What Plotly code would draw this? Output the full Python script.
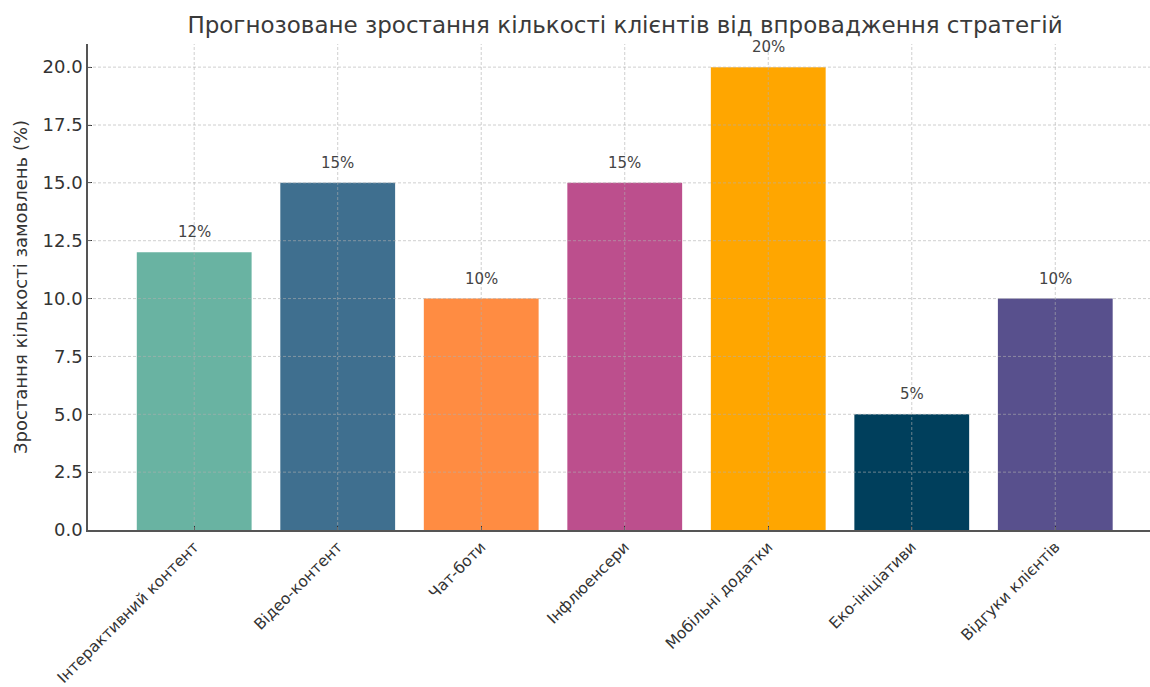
import plotly.graph_objects as go

categories = ["Інтерактивний контент", "Відео-контент", "Чат-боти", "Інфлюенсери",
              "Мобільні додатки", "Еко-ініціативи", "Відгуки клієнтів"]
growth = [12, 15, 10, 15, 20, 5, 10]
colors = ["#69b3a2", "#3f6f8f", "#ff8c42", "#bc4f8d", "#ffa600", "#003f5c", "#58508d"]
y_ticks = [0, 2.5, 5, 7.5, 10, 12.5, 15, 17.5, 20]

x_pos = list(range(len(categories)))
font = "DejaVu Sans, Verdana, sans-serif"

fig = go.Figure(go.Bar(
    x=x_pos, y=growth, width=0.8,
    marker=dict(color=colors, line=dict(width=0)),
    hoverinfo="skip",
))

# value labels above each bar
for xi, v in zip(x_pos, growth):
    fig.add_annotation(x=xi, y=v, text=f"{v}%", showarrow=False,
                       yanchor="bottom", yshift=9,
                       font=dict(family=font, size=15, color="#444444"))

# fine dashed grid drawn over the bars
grid = dict(color="rgba(175,175,175,0.6)", width=1, dash="3px,2px")
for t in y_ticks[1:]:
    fig.add_shape(type="line", xref="paper", yref="y", x0=0, x1=1, y0=t, y1=t,
                  line=grid, layer="above")
for xi in x_pos:
    fig.add_shape(type="line", xref="x", yref="paper", x0=xi, x1=xi, y0=0, y1=1,
                  line=grid, layer="above")

fig.update_layout(
    width=1150, height=687,
    margin=dict(l=88, r=0, t=44, b=157),
    paper_bgcolor="white", plot_bgcolor="white",
    showlegend=False,
    title=dict(text="Прогнозоване зростання кількості клієнтів від впровадження стратегій",
               x=(88 + 1162) / 2 / 1150, xanchor="center", y=1 - 25 / 687, yanchor="middle",
               font=dict(family=font, size=23, color="#3a3a3a")),
    font=dict(family=font, color="#333333"),
)

fig.update_xaxes(
    range=[-0.74, 6.66], tickvals=x_pos, ticktext=categories, tickangle=-45,
    automargin=False,
    showgrid=False, zeroline=False,
    showline=True, linecolor="#555555", linewidth=1.5,
    ticks="inside", ticklen=4, tickcolor="#333333",
    tickfont=dict(family=font, size=15.5, color="#333333"),
)
fig.update_yaxes(
    range=[0, 21], tickvals=y_ticks, ticktext=[f"{t:.1f}" for t in y_ticks],
    automargin=False,
    showgrid=False, zeroline=False,
    showline=True, linecolor="#555555", linewidth=1.5,
    ticks="inside", ticklen=4, tickcolor="#333333",
    tickfont=dict(family=font, size=18, color="#333333"),
    title=dict(text="Зростання кількості замовлень (%)", standoff=10,
               font=dict(family=font, size=18, color="#333333")),
)

fig.write_html("out.html")
